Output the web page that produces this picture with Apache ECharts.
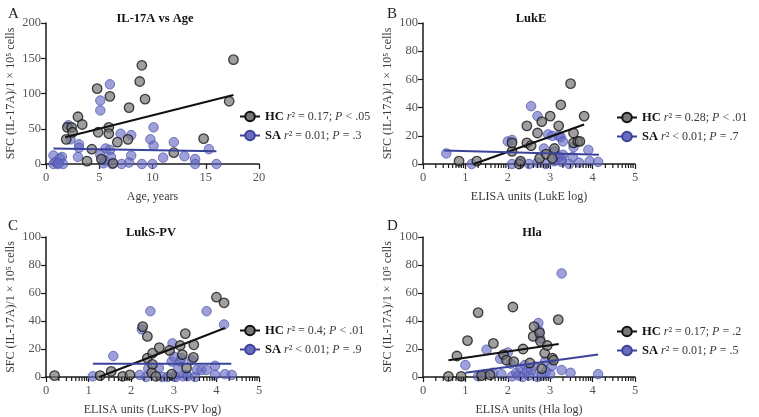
<!DOCTYPE html>
<html>
<head>
<meta charset="utf-8">
<script src="https://cdn.jsdelivr.net/npm/echarts@6/dist/echarts.min.js"></script>
<style>html,body{margin:0;padding:0;background:#fff}#c{width:759px;height:417px}</style>
</head>
<body>
<div id="c"></div>
<script>
// ---------- DATA ----------
const panelTitles = ['IL-17A vs Age', 'LukE', 'LukS-PV', 'Hla'];
const panelLetters = ['A', 'B', 'C', 'D'];
const xAxisNames = ['Age, years', 'ELISA units (LukE log)', 'ELISA units (LuKS-PV log)', 'ELISA units (Hla log)'];
const yAxisName = 'SFC (IL-17A)/1 × 10⁵ cells';
const yMaxes = [200, 100, 100, 100];
const yIntervals = [50, 20, 20, 20];
const xMaxes = [20, 5, 5, 5];
const xIntervals = [5, 1, 1, 1];

const hcStats = ['r² = 0.17; P < .05', 'r² = 0.28; P < .01', 'r² = 0.4; P < .01', 'r² = 0.17; P = .2'];
const saStats = ['r² = 0.01; P = .3', 'r² < 0.01; P = .7', 'r² < 0.01; P = .9', 'r² = 0.01; P = .5'];

// Panel A: IL-17A vs Age
const hcA = [[9.0,140],[8.8,117],[9.3,92],[4.8,107],[6.0,96],[7.8,80],[3.0,67],[3.4,56],[2.0,52],[2.4,52],
  [2.5,45],[1.9,35],[4.9,45],[5.9,52],[5.9,43],[6.7,31],[7.7,35],[4.3,21],[3.85,4],[5.2,7],[6.3,1],
  [17.6,148],[17.2,89],[14.8,36],[12.0,16]];
const saA = [[0.7,12],[0.7,0],[0.9,3],[1.1,0],[1.3,8],[1.5,10],[1.6,0],[1.2,1],
  [2.1,55],[2.3,35],[3.1,28],[3.1,23],[3.0,10],[5.1,90],[5.1,76],[6.0,113],
  [5.6,22],[6.0,20],[5.1,13],[6.1,10],[6.2,0],[5.4,1],[5.5,5],
  [7.0,43],[8.0,41],[8.0,12],[7.8,2],[7.1,0],[9.0,0],
  [9.8,35],[10.1,52],[10.1,26],[10.0,0],[11.0,9],[12.0,31],[13.0,11],[14.0,7],[14.0,0],[15.3,21],[16.0,0]];
const hcFitA = [[1.8,38],[17.6,98]];
const saFitA = [[0.7,22],[16.0,18]];

// Panel B: LukE
const hcB = [[0.85,2],[1.27,2],[2.1,9],[2.1,15],[2.27,0],[2.3,2],[2.45,27],[2.45,15],[2.55,13],[2.7,22],
  [2.75,4],[2.8,30],[2.9,7],[3.0,34],[3.05,4],[3.1,11],[3.2,27],[3.25,42],[3.48,57],[3.55,22],[3.55,15],
  [3.65,16],[3.7,16],[3.8,34]];
const saB = [[0.55,7.5],[1.15,0],[2.0,16],[2.1,17],[2.1,0],[2.3,1],[2.55,41],[2.5,0],[2.7,34],[2.7,1],
  [2.85,11],[2.9,0],[2.95,21],[3.05,20],[3.1,9],[3.1,2],[3.2,20],[3.2,5],[3.25,19],[3.28,3.5],[3.3,16],
  [3.3,6.5],[3.27,1.5],[3.45,0],[3.55,12],[3.53,5],[3.68,1],[3.9,10],[3.93,2],[4.13,1.5]];
const hcFitB = [[1.2,0],[3.8,28]];
const saFitB = [[0.5,9.5],[4.15,6.5]];

// Panel C: LukS-PV
const hcC = [[0.2,1],[1.27,1],[1.53,4],[1.8,0.5],[1.97,1.5],[2.27,36],[2.38,29],[2.38,13.5],[2.5,17],
  [2.5,9],[2.48,3],[2.58,0.5],[2.66,21],[2.9,19],[2.95,2],[3.15,22.5],[3.2,16],[3.27,31],[3.3,6.5],
  [3.47,23],[3.46,14],[4.0,57],[4.18,53]];
const saC = [[1.1,0.5],[1.58,15],[2.2,1.5],[2.25,34],[2.35,0],[2.45,47],[2.4,6],[2.65,6.5],[2.73,0],
  [2.85,0],[2.97,24],[2.95,11],[3.0,14.5],[3.0,0.5],[3.05,0],[3.1,6.5],[3.15,11],[3.18,13.5],[3.22,0.5],
  [3.3,1.5],[3.33,0.5],[3.42,12],[3.5,0],[3.54,5],[3.65,5],[3.77,47],[3.77,5],[3.97,8],[3.97,1.5],
  [4.18,37.5],[4.2,2],[4.36,1.5]];
const hcFitC = [[1.25,0],[4.2,35]];
const saFitC = [[1.1,9.5],[4.35,9.5]];

// Panel D: Hla
const hcD = [[0.6,0.5],[0.8,15],[0.9,0.5],[1.05,26],[1.3,46],[1.38,1],[1.58,1.5],[1.66,24],[1.9,16],
  [1.97,12],[2.14,11],[2.12,50],[2.36,20],[2.52,10],[2.6,29],[2.62,36],[2.75,31.5],[2.77,25.5],[2.8,6],
  [2.87,17],[2.93,22.5],[3.05,13.5],[3.08,12],[3.19,41]];
const saD = [[1.0,8.5],[1.3,0.5],[1.45,2],[1.5,19.5],[1.65,3],[1.82,13],[1.85,2],[2.0,17.5],[2.07,9.5],
  [2.1,0.5],[2.2,3],[2.25,1],[2.3,6],[2.35,0],[2.4,8.5],[2.45,4],[2.5,1],[2.55,5],[2.64,7.5],[2.7,0],
  [2.72,38.5],[2.74,33],[2.76,27.5],[2.8,1],[2.88,11],[2.9,4],[3.0,2],[3.04,8],[3.27,74],[3.27,5],
  [3.48,3],[4.13,2]];
const hcFitD = [[0.6,12],[3.2,23.5]];
const saFitD = [[1.0,3],[4.13,16]];

const hcData = [hcA, hcB, hcC, hcD];
const saData = [saA, saB, saC, saD];
const hcFits = [hcFitA, hcFitB, hcFitC, hcFitD];
const saFits = [saFitA, saFitB, saFitC, saFitD];

// log-decade minor tick positions (for the log-unit x axes)
const minorLog = [];
for (let n = 0; n < 5; n++) for (let k = 2; k <= 9; k++) minorLog.push(n + Math.log10(k));

// ---------- LAYOUT / STYLE ----------
const FONT = "'Liberation Serif', 'DejaVu Serif', serif";
const grids = [
  {left: 46, top: 23, width: 213, height: 141},
  {left: 423, top: 23, width: 212, height: 141},
  {left: 46, top: 237, width: 213, height: 142},
  {left: 423, top: 237, width: 212, height: 142}
];
const titlePos = [[150, 7], [526, 7], [146, 221], [527, 221]];
const letterPos = [[3, 2], [382, 2], [3, 214], [382, 214]];
const legendPos = [[239, 110], [616, 111], [239, 324], [616, 325]];

const HC_FILL = 'rgba(115,115,115,0.85)';
const HC_BORDER = '#151515';
const SA_FILL = 'rgba(100,104,194,0.78)';
const SA_BORDER = 'rgba(78,83,170,0.9)';
const SA_LINE = '#3a4399';
const AXIS = '#1a1a1a';
const TXT = '#3a3a3a';

const option = {
  animation: false,
  backgroundColor: '#fff',
  textStyle: {fontFamily: FONT},
  title: [],
  legend: [],
  grid: [],
  xAxis: [],
  yAxis: [],
  series: []
};

for (let i = 0; i < 4; i++) {
  option.grid.push(Object.assign({containLabel: false}, grids[i]));
  option.title.push({
    text: panelTitles[i], left: titlePos[i][0], top: titlePos[i][1], textAlign: 'center',
    textStyle: {fontFamily: FONT, fontWeight: 'bold', fontSize: 12.5, color: '#111'}
  });
  option.title.push({
    text: panelLetters[i], left: letterPos[i][0], top: letterPos[i][1],
    textStyle: {fontFamily: FONT, fontWeight: 'normal', fontSize: 15, color: '#222'}
  });
  const hcTxt = hcStats[i], saTxt = saStats[i];
  option.legend.push({
    left: legendPos[i][0], top: legendPos[i][1], orient: 'vertical', padding: 0,
    itemWidth: 20, itemHeight: 12, itemGap: 6,
    data: ['HC', 'SA'],
    selectedMode: false,
    formatter: function (name) {
      const s = name === 'HC' ? hcTxt : saTxt;
      const m = s.match(/^r² (.) (.*); P (.) (.*)$/);
      return '{b|' + name + '} {i|r}² ' + m[1] + ' ' + m[2] + '; {i|P} ' + m[3] + ' ' + m[4];
    },
    textStyle: {
      fontFamily: FONT, fontSize: 12, color: TXT,
      rich: {
        b: {fontFamily: FONT, fontSize: 12.5, fontWeight: 'bold', color: '#111'},
        i: {fontFamily: FONT, fontSize: 12, fontStyle: 'italic', color: TXT}
      }
    }
  });

  option.xAxis.push({
    type: 'value', gridIndex: i, min: 0, max: xMaxes[i], interval: xIntervals[i],
    name: xAxisNames[i], nameLocation: 'middle', nameGap: 27,
    nameTextStyle: {fontFamily: FONT, fontSize: 12, color: TXT},
    axisLine: {show: true, onZero: false, lineStyle: {color: AXIS, width: 1.5}},
    axisTick: {show: true, length: 5, lineStyle: {color: AXIS, width: 1.2}},
    axisLabel: {fontFamily: FONT, fontSize: 12.5, color: '#555', margin: 7},
    splitLine: {show: false}
  });
  option.yAxis.push({
    type: 'value', gridIndex: i, min: 0, max: yMaxes[i], interval: yIntervals[i],
    name: yAxisName, nameLocation: 'middle', nameGap: 29,
    nameTextStyle: {fontFamily: FONT, fontSize: 12, color: TXT},
    axisLine: {show: true, onZero: false, lineStyle: {color: AXIS, width: 1.5}},
    axisTick: {show: true, length: 5, lineStyle: {color: AXIS, width: 1.2}},
    axisLabel: {fontFamily: FONT, fontSize: 12.5, color: '#555', margin: 5},
    splitLine: {show: false}
  });
}

for (let i = 0; i < 4; i++) {
  option.series.push({
    name: 'HC points ' + i, type: 'scatter', xAxisIndex: i, yAxisIndex: i, clip: false,
    data: hcData[i], symbol: 'circle', symbolSize: 9.5, z: 3,
    itemStyle: {color: HC_FILL, borderColor: HC_BORDER, borderWidth: 1.3}
  });
  option.series.push({
    name: 'SA points ' + i, type: 'scatter', xAxisIndex: i, yAxisIndex: i, clip: false,
    data: saData[i], symbol: 'circle', symbolSize: 9.5, z: 2,
    itemStyle: {color: SA_FILL, borderColor: SA_BORDER, borderWidth: 1}
  });
  option.series.push({
    name: 'HC', type: 'line', xAxisIndex: i, yAxisIndex: i, data: hcFits[i],
    showSymbol: false, symbol: 'circle', symbolSize: 10, z: 4, silent: true,
    lineStyle: {color: '#111', width: 2},
    itemStyle: {color: 'rgb(120,120,120)', borderColor: '#111', borderWidth: 1.5}
  });
  option.series.push({
    name: 'SA', type: 'line', xAxisIndex: i, yAxisIndex: i, data: saFits[i],
    showSymbol: false, symbol: 'circle', symbolSize: 10, z: 4, silent: true,
    lineStyle: {color: SA_LINE, width: 2},
    itemStyle: {color: 'rgb(105,108,190)', borderColor: SA_LINE, borderWidth: 1.5}
  });
  if (i > 0) {
    // minor log ticks drawn through the axis scale
    option.series.push({
      name: 'minor ticks ' + i, type: 'custom', xAxisIndex: i, yAxisIndex: i, silent: true, clip: false, z: 5,
      data: minorLog.map(v => [v, 0]),
      renderItem: function (params, api) {
        const p = api.coord([api.value(0), 0]);
        return {type: 'line', shape: {x1: p[0], y1: p[1], x2: p[0], y2: p[1] + 4},
          style: {stroke: AXIS, lineWidth: 1.2}};
      }
    });
  }
}

const chart = echarts.init(document.getElementById('c'), null, {renderer: 'canvas'});
chart.setOption(option);
</script>
</body>
</html>
